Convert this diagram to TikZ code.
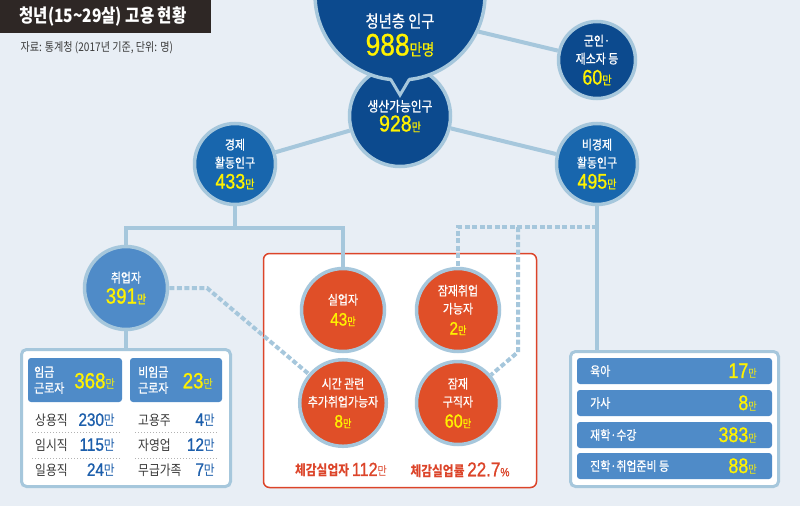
\documentclass[tikz,border=0pt]{standalone}
\usepackage{fontspec}
\setmainfont{Noto Sans CJK KR}[FakeStretch=0.84]
\newfontfamily\labelfont{Noto Sans CJK KR}[FakeStretch=0.84, FakeBold=0.8]
\newfontfamily\numfont{Liberation Sans}[FakeStretch=0.85, FakeBold=0.9]
\usetikzlibrary{positioning}

\definecolor{bgblue}{HTML}{E8EEF5}
\definecolor{ring}{HTML}{A6C7DC}
\definecolor{navy}{HTML}{0C4A8E}
\definecolor{midblue}{HTML}{1866AD}
\definecolor{softblue}{HTML}{4F8BC8}
\definecolor{redfill}{HTML}{E04F28}
\definecolor{redline}{HTML}{DC4429}
\definecolor{hiyellow}{HTML}{FFF200}
\definecolor{titlebg}{HTML}{2E2725}
\definecolor{valblue}{HTML}{1C5EAB}
\definecolor{graytext}{HTML}{3A3A3A}

\newcommand\amt[4]{{\color{hiyellow}{\numfont\fontsize{#1}{#1}\selectfont #2}{\fontsize{#3}{#3}\selectfont #4}}}
\newcommand\bv[1]{{\numfont\fontsize{18}{18}\selectfont #1}{\fontsize{14}{14}\selectfont 만}}

\begin{document}
\begin{tikzpicture}[x=1pt,y=-1pt,on grid,
    ball/.style={circle, draw=ring, line width=3.5pt, inner sep=0pt, align=center,
      text=white, font=\labelfont\fontsize{13}{18}\selectfont},
    link/.style={draw=ring, line width=4pt},
    dashlink/.style={draw=ring, line width=4pt, dash pattern=on 5pt off 2.5pt},
    panel/.style={draw=ring, line width=3pt, fill=white, rounded corners=5pt, inner sep=0pt},
    tile/.style={fill=softblue, rounded corners=3pt, inner sep=0pt},
    tilelbl/.style={anchor=west, align=left, inner sep=0pt, text=white, font=\labelfont\fontsize{13}{16}\selectfont},
    rowlbl/.style={anchor=west, inner sep=0pt, text=graytext, font=\fontsize{14}{16}\selectfont},
    rowval/.style={anchor=east, inner sep=0pt, text=valblue},
    sep/.style={draw=gray!60, dotted, line width=1pt}]
  \useasboundingbox[fill=bgblue] (0,0) rectangle (800,506);

  % title
  \fill[titlebg] (0,0) rectangle (211,33);
  \node[anchor=west, text=white, font=\bfseries\fontsize{18.5}{18.5}\selectfont] (title) at (16,17) {청년(15\textasciitilde 29살) 고용 현황};
  \node[anchor=west, text=graytext, font=\fontsize{12}{12}\selectfont] (source) at (17,48) {자료: 통계청 (2017년 기준, 단위: 명)};

  % boxes
  \node[panel, minimum width=209, minimum height=137] (jobs) at (126,418) {};
  \node[panel, draw=redline, line width=1.5pt, rounded corners=6pt, minimum width=273, minimum height=234] (slack) at (400,370.5) {};
  \node[panel, minimum width=208, minimum height=135] (inactive) at (674.5,419) {};

  % circles
  \node[ball, fill=navy, minimum size=101] (working) at (400,116) {\fontsize{14}{18}\selectfont 생산가능인구\\[2pt]\amt{23}{928}{12}{만}};
  \node[ball, fill=navy, minimum size=170] (youth) at (400,-5) {};
  \fill[navy] (389,74) -- (400,95) -- (411,74) -- cycle;
  \draw[ring, line width=3pt] (390.5,79) -- (400,95) -- (409.5,79);
  \node[align=center, text=white, font=\labelfont\fontsize{17}{20}\selectfont] (youthtxt) at (400,35) {청년층 인구\\[4pt]\amt{31}{988}{16}{만명}};
  \node[ball, fill=navy, minimum size=77] (army) at (597,60) {군인·\\재소자 등\\[3pt]\amt{21}{60}{12}{만}};
  \node[ball, fill=midblue, minimum size=81] (active) at (235,164) {경제\\활동인구\\[3pt]\amt{21}{433}{12}{만}};
  \node[ball, fill=midblue, minimum size=81] (nonactive) [right=362pt of active] {비경제\\활동인구\\[3pt]\amt{21}{495}{12}{만}};
  \node[ball, fill=softblue, minimum size=83] (employed) at (126,288) {취업자\\[3pt]\amt{22}{391}{12}{만}};
  \node[ball, fill=redfill, minimum size=83] (jobless) at (343,310) {실업자\\[3pt]\amt{18}{43}{11}{만}};
  \node[ball, fill=redfill, minimum size=83] (latent) [right=115pt of jobless] {잠재취업\\가능자\\[3pt]\amt{18}{2}{11}{만}};
  \node[ball, fill=redfill, minimum size=83] (parttime) [below=93pt of jobless] {시간 관련\\추가취업가능자\\[3pt]\amt{18}{8}{11}{만}};
  \node[ball, fill=redfill, minimum size=83] (seeker) [right=115pt of parttime] {잠재\\구직자\\[3pt]\amt{19}{60}{11}{만}};

  % connectors
  \coordinate (fork) at (235,228);
  \coordinate (hop) at (207,288);
  \coordinate (tap) at (597,227);
  \coordinate (drop) at (518,227);
  \coordinate (knee) at (518,352);
  \path[link] (youth.-25) edge (army)
              (working) edge (active)
              (working) edge (nonactive)
              (active) edge (fork)
              (employed) edge (jobs)
              (nonactive) edge (nonactive |- inactive.north);
  \draw[link] (employed) |- (fork) -| (jobless);
  \draw[dashlink] (employed) -- (hop) -- (parttime);
  \draw[dashlink] (tap) -| (latent);
  \draw[dashlink] (drop) -- (knee) -- (seeker);

  % employed breakdown
  \node[tile, minimum width=94, minimum height=44] (wage) at (75,380) {};
  \node[tile, minimum width=92, minimum height=44] (nonwage) at (176,380) {};
  \node[tilelbl] (wagelbl) at (34,380) {임금\\근로자};
  \node[anchor=east, inner sep=0pt] (wageval) at (115,381) {\amt{22}{368}{12}{만}};
  \node[tilelbl] (nonwagelbl) at (138,380) {비임금\\근로자};
  \node[anchor=east, inner sep=0pt] (nonwageval) at (213,381) {\amt{22}{23}{12}{만}};
  \node[rowlbl] (regular) at (35,420) {상용직};
  \node[rowval] (regularval) at (115,420) {\bv{230}};
  \node[rowlbl] (temp) at (35,445) {임시직};
  \node[rowval] (tempval) at (115,445) {\bv{115}};
  \node[rowlbl] (daily) at (35,470) {일용직};
  \node[rowval] (dailyval) at (115,470) {\bv{24}};
  \node[rowlbl] (owner) at (138,420) {고용주};
  \node[rowval] (ownerval) at (215,420) {\bv{4}};
  \node[rowlbl] (selfown) at (138,445) {자영업};
  \node[rowval] (selfownval) at (215,445) {\bv{12}};
  \node[rowlbl] (family) at (138,470) {무급가족};
  \node[rowval] (familyval) at (215,470) {\bv{7}};
  \draw[sep] (32,432.5) -- (120,432.5) (135,432.5) -- (217,432.5)
             (32,458) -- (120,458) (135,458) -- (217,458);

  % inactive breakdown
  \node[tile, minimum width=195, minimum height=26] (care) at (674.5,371) {};
  \node[tile, minimum width=195, minimum height=26] (house) at (674.5,403) {};
  \node[tile, minimum width=195, minimum height=26] (study) at (674.5,435) {};
  \node[tile, minimum width=195, minimum height=26] (prep) at (674.5,466) {};
  \node[tilelbl] (carelbl) at (590,371) {육아};
  \node[tilelbl] (houselbl) at (590,403) {가사};
  \node[tilelbl] (studylbl) at (590,435) {재학·수강};
  \node[tilelbl] (preplbl) at (590,466) {진학·취업준비 등};
  \node[anchor=east, inner sep=0pt] (careval) at (757,371) {\amt{21}{17}{11}{만}};
  \node[anchor=east, inner sep=0pt] (houseval) at (757,403) {\amt{21}{8}{11}{만}};
  \node[anchor=east, inner sep=0pt] (studyval) at (757,435) {\amt{21}{383}{11}{만}};
  \node[anchor=east, inner sep=0pt] (prepval) at (757,466) {\amt{21}{88}{11}{만}};

  % felt unemployment
  \node[text=redline, font=\bfseries\fontsize{14}{14}\selectfont] (feltcount) at (341,470) {체감실업자 {\mdseries\numfont\fontsize{19}{19}\selectfont 112}{\mdseries\fontsize{12}{12}\selectfont 만}};
  \node[text=redline, font=\bfseries\fontsize{14}{14}\selectfont] (feltrate) at (460,470) {체감실업률 {\mdseries\numfont\fontsize{20}{20}\selectfont 22.7}{\mdseries\numfont\fontsize{12}{12}\selectfont\%}};
\end{tikzpicture}
\end{document}
